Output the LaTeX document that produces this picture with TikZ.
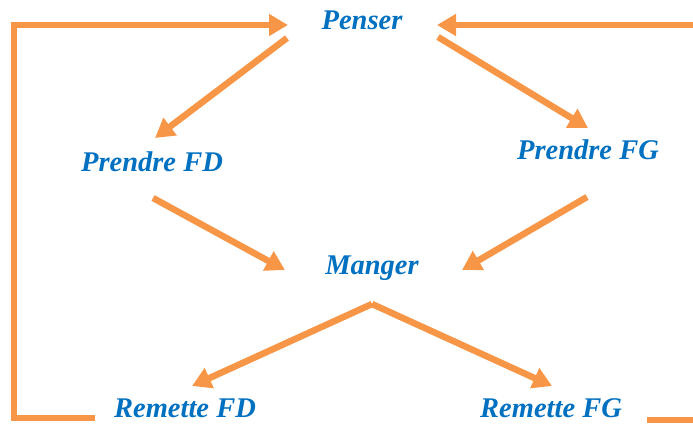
\documentclass[tikz,border=0pt]{standalone}
\usepackage{fontspec}
\setmainfont{Liberation Serif}
\usetikzlibrary{arrows.meta}
\definecolor{arr}{HTML}{F79646}
\definecolor{txt}{HTML}{0070C0}
\begin{document}
\begin{tikzpicture}[x=1pt,y=-1pt,
  lbl/.style={text=txt,font=\fontsize{28.5}{33}\selectfont\bfseries\itshape,inner sep=0pt},
  conn/.style={draw=arr,line width=6.5pt,-{Triangle[length=19pt,width=21pt]}},
  plain/.style={draw=arr,line width=6.5pt}]
\useasboundingbox (0,0) rectangle (693,423);
\node[lbl] (pen) at (362,20) {Penser};
\node[lbl] (pfd) at (152,162) {Prendre FD};
\node[lbl] (pfg) at (588,150) {Prendre FG};
\node[lbl] (man) at (372,268) {Manger};
\node[lbl] (rfd) at (185,408) {Remette FD};
\node[lbl] (rfg) at (551,408) {Remette FG};
% connector end points
\coordinate (penL) at (287,38);
\coordinate (penR) at (438,37);
\coordinate (pfdT) at (155,138);
\coordinate (pfgT) at (588,128);
\coordinate (pfdB) at (153,198);
\coordinate (pfgB) at (587,197);
\coordinate (manL) at (285,270);
\coordinate (manR) at (462,270);
\coordinate (manB) at (372,304);
\coordinate (rfdT) at (192,386);
\coordinate (rfgT) at (552,386);
\coordinate (penInL) at (288,25);
\coordinate (penInR) at (437,25);
\coordinate (cTL) at (14,25);
\coordinate (cBL) at (14,418);
\coordinate (rfdL) at (95,418);
\coordinate (edgeTR) at (693,25);
\coordinate (edgeBR) at (693,420);
\coordinate (rfgR) at (647,420);
% connectors
\draw[conn] (penL) -- (pfdT);
\draw[conn] (penR) -- (pfgT);
\draw[conn] (pfdB) -- (manL);
\draw[conn] (pfgB) -- (manR);
\draw[conn] (manB) -- (rfdT);
\draw[conn] (manB) -- (rfgT);
\draw[conn,line join=miter] (rfdL) -- (cBL) -- (cTL) -- (penInL);
\draw[conn] (edgeTR) -- (penInR);
\draw[plain] (rfgR) -- (edgeBR);
\end{tikzpicture}
\end{document}
